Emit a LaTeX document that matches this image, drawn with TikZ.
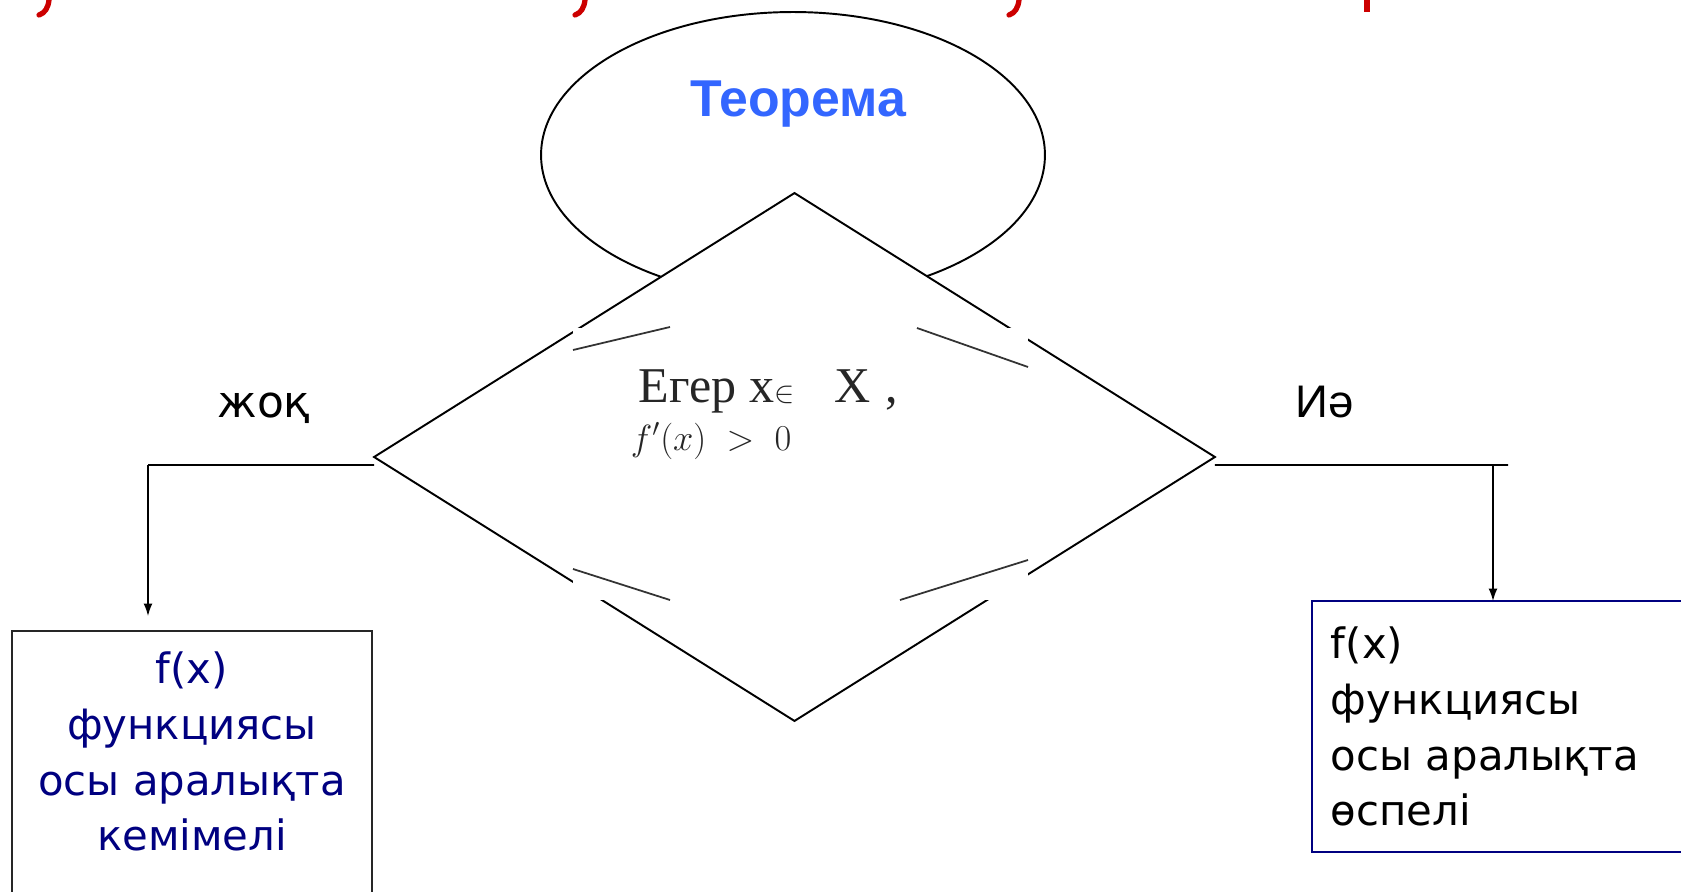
\documentclass[tikz,border=0pt]{standalone}
\usepackage{fontspec}
\usepackage{xcolor}
\usepackage{tikz}
\usetikzlibrary{shapes.geometric,arrows.meta}
\newfontfamily\boxfont{DejaVu Sans}
\newfontfamily\headfont{Liberation Sans}
\newfontfamily\scanfont{Liberation Serif}
\definecolor{thmblue}{RGB}{51,102,255}
\definecolor{boxnavy}{RGB}{0,0,128}
\definecolor{slidered}{RGB}{204,0,0}

\begin{document}
\begin{tikzpicture}[x=0.02cm, y=-0.02cm, line width=1.1pt, >={Latex[length=7pt,width=5pt]},
  oval/.style = {draw, ellipse, minimum width=10.08cm, minimum height=5.72cm, inner sep=0pt, outer sep=0pt},
  decision/.style = {draw, diamond, fill=white, minimum width=16.82cm, minimum height=10.56cm, inner sep=0pt, outer sep=0pt},
  scanpatch/.style = {fill=white, minimum width=9.1cm, minimum height=5.44cm, inner sep=0pt},
  scanline/.style = {draw=black!80, line width=1pt},
  scantext/.style = {font=\scanfont\fontsize{28.5}{32}\selectfont, text=black!85, inner sep=0pt},
  outbox/.style = {draw, rectangle, inner sep=0pt, outer sep=0pt},
  boxtext/.style = {font=\boxfont\fontsize{23.8}{31.7}\selectfont, text=boxnavy, inner sep=0pt},
  branch/.style = {font=\boxfont\fontsize{25}{30}\selectfont, inner sep=0pt},
  thinline/.style = {line width=0.8pt}]
\useasboundingbox (0,0) rectangle (1681,892);
\clip (0,0) rectangle (1681,892);
% bits of the slide title cut off at the top
\foreach \mx in {43,579,1013}
  \draw[slidered, line width=3pt, line cap=round] (\mx+6,0) .. controls (\mx+5,8) and (\mx+2,13) .. (\mx-4,15);
\draw[slidered, line width=3pt] (1367,0) -- (1367,12);
% theorem oval and decision
\node[oval] (thm) at (793,155) {};
\node[font=\headfont\bfseries\fontsize{29.5}{34}\selectfont, text=thmblue, anchor=base] (thmtext) at (798,117) {Теорема};
\node[decision] (dec) at (794.5,457) {};
% pasted scan inside the diamond
\node[scanpatch] (scan) at (800.5,464) {};
\draw[scanline] (573,350) -- (670,327);
\draw[scanline] (917,328) -- (1028,367);
\draw[scanline] (573,569) -- (670,600);
\draw[scanline] (900,600) -- (1028,560);
\node[scantext, anchor=base west] (cond) at (638,402) {Егер x{\fontsize{17}{18}\selectfont$\in$}\hspace{0.8cm}X\hspace{0.3cm},};
\node[scantext, anchor=base west] (deriv) at (630,450) {\fontsize{20}{22}\selectfont$f'(x)\;>\;0$};
% branch labels
\node[branch, anchor=base] (nolabel) at (264,417) {жоқ};
\node[font=\headfont\fontsize{26}{30}\selectfont, inner sep=0pt, anchor=base] (yeslabel) at (1325,417) {Иә};
% result boxes
\node[outbox, draw=black!85, minimum width=7.2cm, minimum height=6cm, anchor=north] (nobox) at (192,631) {};
\node[boxtext, align=center, anchor=north] (notext) at ([yshift=-0.4cm]nobox.north) {f(x)\\функциясы\\осы аралықта\\кемімелі};
\node[outbox, draw=boxnavy, minimum width=8cm, minimum height=5.02cm, anchor=north west] (yesbox) at (1312,601) {};
\node[boxtext, text=black, align=left, anchor=north west] (yestext) at ([xshift=0.36cm,yshift=-0.5cm]yesbox.north west) {f(x)\\функциясы\\осы аралықта\\өспелі};
% connectors
\coordinate (nocorner) at (148,465);
\coordinate (yescorner) at (1493,465);
\coordinate (yesend) at (1508,465);
\draw ([yshift=-0.16cm]dec.west) -- (nocorner);
\draw[->, thinline, shorten >=0.3cm] (nocorner) -- (nocorner |- nobox.north);
\draw ([yshift=-0.16cm]dec.east) -- (yesend);
\draw[->, thinline] (yescorner) -- (yescorner |- yesbox.north);
\end{tikzpicture}
\end{document}
